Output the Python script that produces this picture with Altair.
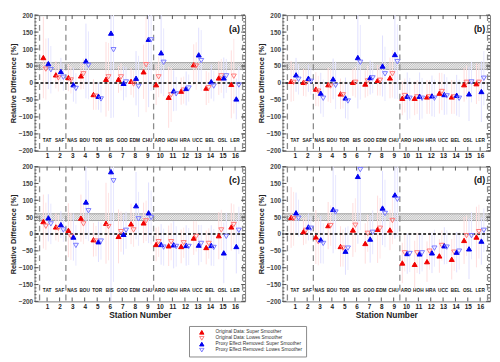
import altair as alt
import pandas as pd
import numpy as np

stations = ["TAT", "SAF", "NAS", "BOU", "TOR", "BIS", "GOO", "EDM",
            "CHU", "ARO", "HOH", "HRA", "UCC", "BEL", "OSL", "LER"]
station_numbers = list(range(1, 17))
series_names = ["Original Data: Super Smoother", "Original Data: Lowes Smoother",
                "Proxy Effect Removed: Super Smoother", "Proxy Effect Removed: Lowes Smoother"]
errbar_keys = ["err_os", "err_ol", "err_ps", "err_pl"]

# ---- values (relative difference, %) per panel, order of series_names ----
a_orig_super = [75, 24, 16, 21, -34, 11, 11, 5, 33, -5, -42, -24, 54, -15, 15, -4]
a_orig_lowes = [41, 15, 9, 27, -39, 18, 18, -3, 54, 18, -35, -21, 50, -14, 21, 20]
a_proxy_super = [57, 34, -5, 65, -39, 147, -1, 14, 129, 89, -23, -16, 83, 4, 15, -47]
a_proxy_lowes = [39, 17, -16, 52, -47, 98, 3, -10, 127, 61, -32, -15, 66, -9, 21, -6]

b_orig_super = [5, 2, -18, -5, -32, 2, -3, 8, 15, -45, -45, -41, -30, -41, -5, -2]
b_orig_lowes = [2, 0, -24, -9, -35, 2, 6, 8, 27, -37, -41, -41, -25, -41, 2, 2]
b_proxy_super = [24, 14, -30, 12, -44, 75, 16, 50, 84, -39, -39, -38, -34, -36, -32, -25]
b_proxy_lowes = [11, 5, -45, -7, -53, 61, 15, 27, 63, -45, -45, -45, -38, -45, 3, 14]

c_orig_super = [37, 21, 11, 47, -17, 32, -7, 30, 33, -31, -35, -37, -12, -40, -5, 21]
c_orig_lowes = [23, 17, -7, 30, -21, 22, 7, 12, 39, -23, -23, -26, -7, -28, 12, 28]
c_proxy_super = [48, 28, -9, 95, -23, 185, -1, 84, 63, -31, -32, -34, -33, -34, -56, -37]
c_proxy_lowes = [30, 12, -34, 69, -21, 158, 11, 45, 49, -39, -37, -37, -28, -40, -7, 11]

d_orig_super = [49, 7, -9, 25, -37, 12, -28, 14, 12, -86, -90, -82, -65, -75, -19, -9]
d_orig_lowes = [45, 11, -23, 25, -42, 26, 2, 17, 40, -56, -56, -51, -34, -54, -5, 7]
d_proxy_super = [63, 21, -17, 73, -51, 171, -15, 77, 116, -58, -59, -56, -35, -54, -44, -21]
d_proxy_lowes = [47, 17, -28, 65, -42, 191, 5, 61, 103, -58, -56, -42, -39, -51, -5, 11]

# ---- error-bar half widths (estimated) ----
a_err_os = [120, 40, 40, 40, 45, 110, 40, 40, 80, 60, 90, 40, 60, 50, 50, 100]
a_err_ol = [90, 40, 40, 45, 40, 100, 40, 40, 140, 60, 80, 40, 70, 45, 50, 110]
a_err_ps = [75, 40, 50, 110, 40, 250, 50, 80, 200, 120, 60, 50, 80, 50, 60, 60]
a_err_pl = [70, 40, 45, 100, 40, 200, 45, 90, 150, 100, 50, 40, 90, 45, 50, 55]

b_err_os = [60, 40, 50, 50, 45, 40, 40, 45, 60, 50, 50, 50, 60, 50, 50, 60]
b_err_ol = [55, 40, 45, 50, 40, 45, 45, 45, 70, 50, 50, 50, 55, 50, 50, 55]
b_err_ps = [50, 40, 60, 60, 60, 150, 50, 90, 130, 70, 70, 60, 60, 60, 80, 90]
b_err_pl = [45, 40, 55, 70, 55, 110, 45, 80, 110, 60, 60, 55, 55, 55, 60, 80]

c_err_os = [80, 40, 80, 70, 50, 120, 80, 60, 60, 50, 60, 50, 50, 50, 70, 70]
c_err_ol = [70, 40, 70, 60, 45, 100, 60, 50, 60, 45, 55, 45, 45, 45, 60, 60]
c_err_ps = [70, 40, 70, 110, 60, 400, 60, 100, 90, 60, 70, 60, 60, 60, 90, 80]
c_err_pl = [60, 35, 60, 90, 55, 300, 55, 80, 80, 55, 60, 55, 55, 55, 70, 70]

d_err_os = [90, 40, 80, 70, 60, 80, 60, 100, 60, 60, 70, 60, 50, 60, 70, 90]
d_err_ol = [80, 40, 70, 60, 55, 80, 55, 90, 70, 55, 60, 55, 45, 55, 60, 80]
d_err_ps = [60, 40, 70, 130, 70, 200, 70, 110, 130, 60, 60, 60, 55, 60, 90, 70]
d_err_pl = [55, 35, 60, 110, 65, 180, 65, 100, 110, 55, 55, 55, 50, 55, 70, 65]

separators = [0.4, 2.5, 9.5, 16.6]
band = [40, 60]
zero_level = [0]
y_major = list(range(-200, 201, 50))
y_minor = list(range(-200, 201, 10))

# ---- styling ----
series_offsets = [-0.3, -0.1, 0.1, 0.3]
marker_shapes = ["triangle-up", "triangle-down", "triangle-up", "triangle-down"]
marker_fill = ["#f00000", "transparent", "#0000f0", "transparent"]
marker_stroke = ["#f00000", "#ff7878", "#0000f0", "#7878ff"]
errbar_colors = ["#ffdcdc", "#ffe6e6", "#dedeff", "#e8e8ff"]
X_DOMAIN = [0, 16.8]
Y_DOMAIN = [-200, 200]

LEG = alt.Legend(title=None, orient="none", legendX=157, legendY=316,
                 fillColor="white", strokeColor="#8a8a8a", padding=4,
                 labelFontSize=4.9, labelColor="#333", symbolSize=20,
                 rowPadding=0, clipHeight=5, symbolStrokeWidth=1, labelOffset=11,
                 symbolOffset=6, labelLimit=200)


def make_panel(letter, vals, errs, w, h, bottom):
    rows = []
    for si, name in enumerate(series_names):
        for i in range(16):
            v = vals[si][i]
            e = errs[si][i]
            rows.append({"series": name, "ekey": errbar_keys[si],
                         "x": station_numbers[i] + series_offsets[si],
                         "value": v, "lo": v - e, "hi": v + e})
    df = pd.DataFrame(rows)
    xsc = alt.Scale(domain=X_DOMAIN, nice=False, zero=False)
    ysc = alt.Scale(domain=Y_DOMAIN, nice=False, zero=False)

    xkw = dict(values=station_numbers, ticks=False, domain=False, grid=False,
               labelFontSize=6.5, labelFontWeight="bold", labelColor="#222",
               labelPadding=2, format="d")
    if bottom:
        xkw.update(title="Station Number", titleFontSize=8.5, titleFontWeight="bold",
                   titlePadding=1, titleColor="#222")
    else:
        xkw.update(title=None)
    xax = alt.Axis(**xkw)
    yax = alt.Axis(values=y_major, ticks=False, domain=False, grid=False,
                   labelFontSize=6.5, labelFontWeight="bold", labelColor="#444",
                   labelPadding=2, title="Relative Difference [%]", titleFontSize=7.5,
                   titleFontWeight="bold", titleColor="#222", titlePadding=1)

    def X(f):
        return alt.X(f, scale=xsc, axis=xax)

    def Y(f):
        return alt.Y(f, scale=ysc, axis=yax)

    # hatched band
    px_per_x = w / (X_DOMAIN[1] - X_DOMAIN[0])
    px_per_y = h / (Y_DOMAIN[1] - Y_DOMAIN[0])
    dx = (band[1] - band[0]) * px_per_y / px_per_x
    starts = np.arange(X_DOMAIN[0] - dx, X_DOMAIN[1], 2.2 / px_per_x)
    hatch_df = pd.DataFrame({"x0": starts, "x1": starts + dx,
                             "y0": band[0], "y1": band[1]})
    band_df = pd.DataFrame({"lo": [band[0]], "hi": [band[1]]})

    band_rect = alt.Chart(band_df).mark_rect(fill="#efefef", stroke="#8a8a8a",
                                             strokeWidth=0.8).encode(
        x=alt.value(0), x2=alt.value(w), y=Y("lo:Q"), y2="hi:Q")
    hatch = alt.Chart(hatch_df).mark_rule(clip=True, color="#9a9a9a",
                                          strokeWidth=0.6).encode(
        x=X("x0:Q"), x2="x1:Q", y=Y("y0:Q"), y2="y1:Q")

    errbars = alt.Chart(df).mark_rule(clip=True, strokeWidth=1).encode(
        x=X("x:Q"), y=Y("lo:Q"), y2="hi:Q",
        color=alt.Color("ekey:N", scale=alt.Scale(domain=errbar_keys,
                                                  range=errbar_colors),
                        legend=None))

    sep_df = pd.DataFrame({"s": separators})
    seps = alt.Chart(sep_df).mark_rule(color="#8c8c8c", strokeWidth=1.3,
                                       strokeDash=[6, 4]).encode(x=X("s:Q"))

    zero_df = pd.DataFrame({"z": zero_level})
    zero = alt.Chart(zero_df).mark_rule(color="#000", strokeWidth=1.4,
                                        strokeDash=[3, 2]).encode(y=Y("z:Q"))

    pts = alt.Chart(df).mark_point(filled=True, size=26, opacity=1,
                                   strokeWidth=1).encode(
        x=X("x:Q"), y=Y("value:Q"),
        shape=alt.Shape("series:N", scale=alt.Scale(domain=series_names,
                                                    range=marker_shapes), legend=LEG),
        fill=alt.Fill("series:N", scale=alt.Scale(domain=series_names,
                                                  range=marker_fill), legend=LEG),
        stroke=alt.Stroke("series:N", scale=alt.Scale(domain=series_names,
                                                      range=marker_stroke), legend=LEG))

    st_df = pd.DataFrame({"s": station_numbers, "label": stations, "ly": -170})
    st_text = alt.Chart(st_df).mark_text(fontSize=4.8, fontWeight="bold",
                                         color="#222").encode(
        x=X("s:Q"), y=Y("ly:Q"), text="label:N")

    let_df = pd.DataFrame({"lab": [f"({letter})"], "lx": [15.95], "ly": [160]})
    let_text = alt.Chart(let_df).mark_text(fontSize=9, fontWeight="bold",
                                           color="#111").encode(
        x=X("lx:Q"), y=Y("ly:Q"), text="lab:N")

    ymaj = pd.DataFrame({"t": y_major})
    ymin = pd.DataFrame({"t": y_minor})
    sdf = pd.DataFrame({"s": station_numbers})
    tick_col = "#555"
    lt_maj = alt.Chart(ymaj).mark_rule(color=tick_col).encode(
        y=Y("t:Q"), x=alt.value(0), x2=alt.value(4))
    lt_min = alt.Chart(ymin).mark_rule(color=tick_col).encode(
        y=Y("t:Q"), x=alt.value(0), x2=alt.value(2))
    rt_maj = alt.Chart(ymaj).mark_rule(color=tick_col).encode(
        y=Y("t:Q"), x=alt.value(w), x2=alt.value(w - 4))
    rt_min = alt.Chart(ymin).mark_rule(color=tick_col).encode(
        y=Y("t:Q"), x=alt.value(w), x2=alt.value(w - 2))
    bt = alt.Chart(sdf).mark_rule(color=tick_col).encode(
        x=X("s:Q"), y=alt.value(h), y2=alt.value(h - 4))
    tp = alt.Chart(sdf).mark_rule(color=tick_col).encode(
        x=X("s:Q"), y=alt.value(0), y2=alt.value(4))

    return alt.layer(band_rect, hatch, errbars, seps, zero, lt_maj, lt_min,
                     rt_maj, rt_min, bt, tp, st_text, let_text, pts).properties(
        width=w, height=h)


pa = make_panel("a", [a_orig_super, a_orig_lowes, a_proxy_super, a_proxy_lowes],
                [a_err_os, a_err_ol, a_err_ps, a_err_pl], 214, 138, False)
pb = make_panel("b", [b_orig_super, b_orig_lowes, b_proxy_super, b_proxy_lowes],
                [b_err_os, b_err_ol, b_err_ps, b_err_pl], 211, 138, False)
pc = make_panel("c", [c_orig_super, c_orig_lowes, c_proxy_super, c_proxy_lowes],
                [c_err_os, c_err_ol, c_err_ps, c_err_pl], 214, 137, True)
pd_ = make_panel("d", [d_orig_super, d_orig_lowes, d_proxy_super, d_proxy_lowes],
                 [d_err_os, d_err_ol, d_err_ps, d_err_pl], 211, 137, True)

top = alt.hconcat(pa, pb, spacing=9)
bottom = alt.hconcat(pc, pd_, spacing=9)
chart = alt.vconcat(top, bottom, spacing=3).properties(
    padding={"left": 0, "top": 0, "right": 0, "bottom": 40}
).resolve_legend(shape="shared", fill="shared", stroke="shared").configure(
    font="Liberation Sans"
).configure_view(stroke="#7a7a7a", strokeWidth=1)

chart.save("out.html", embed_options={"renderer": "svg", "actions": False})
